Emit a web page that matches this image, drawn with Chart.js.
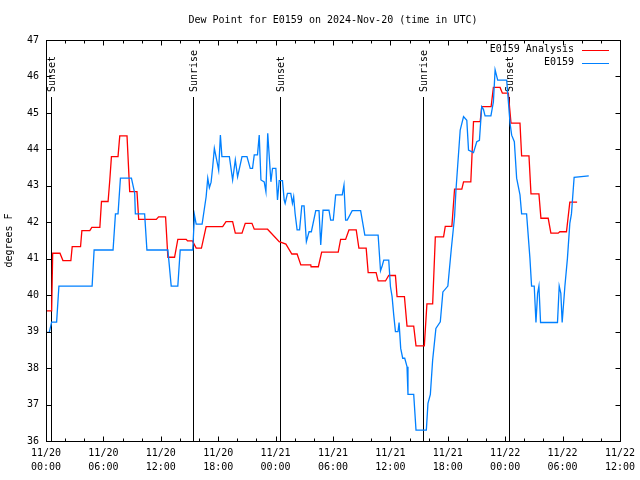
<!DOCTYPE html>
<html>
<head>
<meta charset="utf-8">
<script src="https://cdn.jsdelivr.net/npm/chart.js@4/dist/chart.umd.min.js"></script>
<style>
  body { margin: 0; background: #fff; }
  #wrap { width: 640px; height: 480px; }
</style>
</head>
<body>
<div id="wrap"><canvas id="chart" width="640" height="480"></canvas></div>
<script>
// hours since 11/20 00:00 UTC
const analysisHours = [0.07, 0.59, 0.70, 1.46, 1.77, 2.60, 2.74, 3.61, 3.75, 4.58, 4.79, 5.63, 5.80, 6.49,
  6.67, 6.84, 7.53, 7.71, 8.47, 8.75, 9.51, 9.69, 11.53, 11.77, 12.50, 12.74, 13.44, 13.78, 14.66,
  14.79, 15.31, 15.70, 16.25, 16.74, 18.47, 18.82, 19.51, 19.79, 20.49, 20.83, 21.53, 21.77, 23.16,
  24.38, 25.08, 25.70, 26.25, 26.64, 27.68, 27.71, 28.47, 28.82, 30.55, 30.80, 31.32, 31.67, 32.43,
  32.71, 33.47, 33.68, 34.51, 34.72, 35.49, 35.83, 36.53, 36.70, 37.47, 37.74, 38.44, 38.68, 39.55,
  39.82, 40.42, 40.70, 41.56, 41.74, 42.43, 42.71, 43.47, 43.65, 44.41, 44.69, 45.39, 45.55, 46.53,
  46.77, 47.47, 47.71, 48.33, 48.61, 49.55, 49.72, 50.49, 50.70, 51.53, 51.74, 52.50, 52.78, 53.54,
  53.72, 54.41, 54.76, 55.52];
const analysisDewF = [39.57, 39.57, 41.15, 41.15, 40.95, 40.95, 41.33, 41.33, 41.77, 41.77, 41.86, 41.86, 42.57, 42.57,
  43.16, 43.80, 43.80, 44.37, 44.37, 42.84, 42.84, 42.08, 42.08, 42.15, 42.15, 41.04, 41.04, 41.53, 41.53,
  41.49, 41.49, 41.29, 41.29, 41.88, 41.88, 42.02, 42.02, 41.70, 41.70, 41.97, 41.97, 41.81, 41.81,
  41.47, 41.40, 41.13, 41.13, 40.83, 40.83, 40.78, 40.78, 41.18, 41.18, 41.53, 41.53, 41.79, 41.79,
  41.29, 41.29, 40.62, 40.62, 40.39, 40.39, 40.54, 40.54, 39.96, 39.96, 39.15, 39.15, 38.61, 38.61,
  39.76, 39.76, 41.60, 41.60, 41.89, 41.89, 42.91, 42.91, 43.11, 43.11, 44.76, 44.76, 45.17, 45.17,
  45.70, 45.70, 45.54, 45.54, 44.72, 44.72, 43.82, 43.82, 42.78, 42.78, 42.11, 42.11, 41.70, 41.70,
  41.74, 41.74, 42.55, 42.55];

const stationHours = [0.07, 0.34, 0.59, 1.11, 1.35, 4.82, 5.03, 7.01, 7.26, 7.53, 7.78, 8.93, 9.27, 9.34,
  10.31, 10.55, 12.74, 13.09, 13.78, 14.03, 15.34, 15.52, 15.70, 16.32, 16.74, 16.91, 17.08, 17.26,
  17.43, 17.60, 17.95, 18.05, 18.23, 18.39, 19.17, 19.51, 19.79, 20.03, 20.49, 21.01, 21.35, 21.59,
  21.77, 22.11, 22.29, 22.47, 22.81, 22.99, 23.18, 23.51, 23.68, 24.03, 24.20, 24.38, 24.72, 24.90,
  25.00, 25.24, 25.59, 25.76, 25.89, 26.04, 26.25, 26.51, 26.74, 26.98, 27.22, 27.50, 27.74, 28.20,
  28.54, 28.72, 28.96, 29.58, 29.76, 30.03, 30.28, 30.97, 31.15, 31.32, 31.49, 32.01, 32.89, 33.33,
  34.72, 34.97, 35.14, 35.31, 35.83, 36.01, 36.18, 36.35, 36.53, 36.80, 36.91, 37.08, 37.29, 37.50,
  37.74, 37.84, 38.44, 38.68, 39.76, 39.93, 40.18, 40.42, 40.76, 41.22, 41.49, 42.01, 42.36, 42.71,
  42.86, 43.30, 43.65, 43.99, 44.17, 44.69, 45.03, 45.31, 45.55, 45.73, 45.90, 46.51, 46.77, 46.95,
  47.22, 48.16, 48.51, 48.68, 48.96, 49.20, 49.55, 49.72, 50.24, 50.59, 50.76, 51.04, 51.22, 51.39,
  51.53, 51.70, 53.47, 53.65, 53.82, 53.96, 54.24, 54.51, 54.76, 54.93, 55.21, 56.74];
const stationDewF = [38.98, 38.98, 39.26, 39.26, 40.25, 40.25, 41.24, 41.24, 42.23, 42.23, 43.21, 43.21, 42.80, 42.23,
  42.23, 41.24, 41.24, 40.25, 40.25, 41.24, 41.24, 42.20, 41.95, 41.95, 42.70, 43.21, 42.95, 43.10,
  43.53, 44.03, 43.57, 43.43, 44.39, 43.80, 43.80, 43.16, 43.71, 43.25, 43.80, 43.80, 43.48, 43.48,
  43.85, 43.85, 44.39, 43.16, 43.11, 42.84, 44.44, 43.11, 43.48, 43.48, 42.61, 43.14, 43.14, 42.61,
  42.52, 42.79, 42.79, 42.52, 42.70, 42.24, 41.79, 41.79, 42.45, 42.45, 41.47, 41.74, 41.74, 42.32,
  42.32, 41.38, 42.33, 42.33, 42.06, 42.06, 42.75, 42.75, 43.02, 42.06, 42.06, 42.32, 42.32, 41.65,
  41.65, 40.67, 40.80, 40.96, 40.96, 40.23, 39.96, 39.46, 39.00, 39.00, 39.25, 38.54, 38.27, 38.27,
  38.04, 37.28, 37.28, 36.30, 36.30, 37.03, 37.28, 38.22, 39.09, 39.27, 40.09, 40.25, 41.24, 42.15,
  42.89, 44.53, 44.90, 44.80, 43.98, 43.91, 44.21, 44.25, 45.17, 45.10, 44.92, 44.92, 45.30, 46.18,
  45.90, 45.90, 44.72, 44.39, 44.21, 43.21, 42.75, 42.23, 42.23, 41.01, 40.25, 40.25, 39.25, 40.05,
  40.25, 39.25, 39.25, 40.25, 40.05, 39.25, 40.23, 41.01, 41.97, 42.23, 43.23, 43.27];

const sunLabels = ["Sunset", "Sunrise", "Sunset", "Sunrise", "Sunset"];
const sunHours = [0.54, 15.41, 24.45, 39.40, 48.44];

const xTickDays = ["11/20", "11/20", "11/20", "11/20", "11/21", "11/21", "11/21", "11/21", "11/22", "11/22", "11/22"];
const xTickTimes = ["00:00", "06:00", "12:00", "18:00", "00:00", "06:00", "12:00", "18:00", "00:00", "06:00", "12:00"];

const FONT = "DejaVu Sans Mono";

function toPoints(xs, ys) {
  return xs.map((x, i) => ({ x: x, y: ys[i] }));
}

// frame, inward ticks, sun lines, title and legend in gnuplot style
const gnuplotDecor = {
  id: "gnuplotDecor",
  beforeDatasetsDraw(chart) {
    const { ctx, chartArea, scales } = chart;
    ctx.save();
    ctx.strokeStyle = "#000";
    ctx.lineWidth = 1;
    ctx.fillStyle = "#000";
    ctx.font = "10px '" + FONT + "'";
    sunHours.forEach((h, i) => {
      const x = Math.round(scales.x.getPixelForValue(h)) + 0.5;
      ctx.beginPath();
      ctx.moveTo(x, 97);
      ctx.lineTo(x, chartArea.bottom);
      ctx.stroke();
      ctx.save();
      ctx.translate(x + 1, 92);
      ctx.rotate(-Math.PI / 2);
      ctx.textAlign = "left";
      ctx.textBaseline = "middle";
      ctx.fillText(sunLabels[i], 0, 0);
      ctx.restore();
    });
    ctx.restore();
  },
  afterDraw(chart) {
    const { ctx, chartArea, scales } = chart;
    const l = Math.round(chartArea.left) + 0.5;
    const r = Math.round(chartArea.right) + 0.5;
    const t = Math.round(chartArea.top) + 0.5;
    const b = Math.round(chartArea.bottom) + 0.5;
    ctx.save();
    ctx.strokeStyle = "#000";
    ctx.lineWidth = 1;
    ctx.strokeRect(l, t, r - l, b - t);
    ctx.beginPath();
    for (let v = 36; v <= 47; v++) {
      const y = Math.round(scales.y.getPixelForValue(v)) + 0.5;
      ctx.moveTo(l, y); ctx.lineTo(l + 5, y);
      ctx.moveTo(r, y); ctx.lineTo(r - 5, y);
    }
    for (let h = 0; h <= 60; h += 2) {
      const x = Math.round(scales.x.getPixelForValue(h)) + 0.5;
      const len = h % 6 === 0 ? 5 : 3;
      ctx.moveTo(x, b); ctx.lineTo(x, b - len);
      ctx.moveTo(x, t); ctx.lineTo(x, t + len);
    }
    ctx.stroke();

    ctx.fillStyle = "#000";
    ctx.font = "10px '" + FONT + "'";
    ctx.textAlign = "center";
    ctx.textBaseline = "middle";
    ctx.fillText("Dew Point for E0159 on 2024-Nov-20 (time in UTC)", (chartArea.left + chartArea.right) / 2, 20);

    ctx.textAlign = "right";
    chart.data.datasets.forEach((ds, i) => {
      const y = 49.5 + i * 13;
      ctx.fillText(ds.label, 574, y);
      ctx.strokeStyle = ds.borderColor;
      ctx.beginPath();
      ctx.moveTo(582, Math.round(y) + 0.5);
      ctx.lineTo(609, Math.round(y) + 0.5);
      ctx.stroke();
    });
    ctx.restore();
  }
};

new Chart(document.getElementById("chart"), {
  type: "line",
  data: {
    datasets: [
      {
        label: "E0159 Analysis",
        data: toPoints(analysisHours, analysisDewF),
        borderColor: "rgb(255, 0, 0)",
        borderWidth: 1.3,
        pointRadius: 0,
        tension: 0,
        fill: false,
        order: 2
      },
      {
        label: "E0159",
        data: toPoints(stationHours, stationDewF),
        borderColor: "rgb(0, 128, 255)",
        borderWidth: 1.3,
        pointRadius: 0,
        tension: 0,
        fill: false,
        order: 1
      }
    ]
  },
  options: {
    responsive: false,
    animation: false,
    layout: { padding: { top: 40, right: 18, left: 0, bottom: 0 } },
    plugins: {
      legend: { display: false },
      title: { display: false },
      tooltip: { enabled: false }
    },
    scales: {
      x: {
        type: "linear",
        min: 0,
        max: 60,
        grid: { display: false, drawTicks: false },
        border: { display: false },
        ticks: {
          stepSize: 6,
          maxRotation: 0,
          autoSkip: false,
          padding: 5,
          color: "#000",
          font: { family: FONT, size: 10, lineHeight: 1.4 },
          callback: (v) => [xTickDays[v / 6], xTickTimes[v / 6]]
        },
        afterFit: (scale) => { scale.height = 39; }
      },
      y: {
        min: 36,
        max: 47,
        grid: { display: false, drawTicks: false },
        border: { display: false },
        ticks: {
          stepSize: 1,
          padding: 7,
          color: "#000",
          font: { family: FONT, size: 10 }
        },
        title: {
          display: true,
          text: "degrees F",
          color: "#000",
          padding: { top: 3, bottom: 0 },
          font: { family: FONT, size: 10 }
        },
        afterFit: (scale) => { scale.width = 46; }
      }
    }
  },
  plugins: [gnuplotDecor]
});
</script>
</body>
</html>
